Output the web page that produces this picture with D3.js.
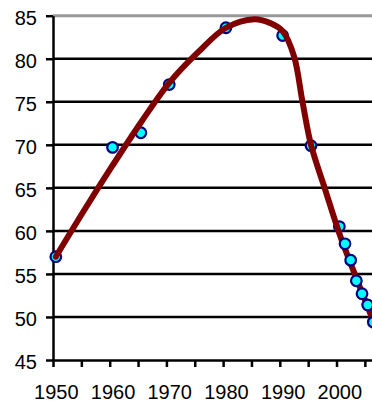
<!DOCTYPE html>
<html>
<head>
<meta charset="utf-8">
<script src="https://cdn.jsdelivr.net/npm/d3@7"></script>
<style>
  html, body { margin: 0; padding: 0; background: #fff; }
  #chart { width: 372px; height: 405px; overflow: hidden; }
  text { font-family: "Liberation Sans", Arial, sans-serif; }
</style>
</head>
<body>
<div id="chart"></div>
<script>
// 观测点（前一段，画在趋势线下面）
const yearsA = [1950, 1960, 1965, 1970, 1980, 1990, 1995, 2000]
const valuesA = [57.0, 69.7, 71.4, 77.0, 83.6, 82.7, 69.9, 60.5]
// 观测点（2001 以后，画在趋势线上面）
const yearsB = [2001, 2002, 2003, 2004, 2005, 2006]
const valuesB = [58.5, 56.6, 54.2, 52.7, 51.4, 49.4]
// 平滑趋势线，从图上读的点
const trendYears = [1950, 1955, 1960, 1965, 1970, 1975, 1980, 1985, 1988, 1990, 1992, 1993.5, 1995, 1997.5, 2000, 2003, 2006]
const trendValues = [57.0, 62.4, 67.6, 72.6, 77.2, 80.7, 83.6, 84.6, 84.1, 83.2, 80.3, 75.0, 70.0, 64.8, 59.7, 54.5, 49.5]
// 刻度
const yTicks = [45, 50, 55, 60, 65, 70, 75, 80, 85]
const xLabels = [1950, 1960, 1970, 1980, 1990, 2000]
const xTickMarks = [1949.5, 1954.5, 1959.5, 1964.5, 1969.5, 1974.5, 1979.5, 1984.5, 1989.5, 1994.5, 1999.5, 2004.5]

const width = 372
const height = 405

const svg = d3.select("#chart").append("svg")
  .attr("width", width)
  .attr("height", height)

const x = d3.scaleLinear().domain([1949.5, 2006.5]).range([53, 376.2])
const y = d3.scaleLinear().domain([45, 85]).range([360, 15.7])

// 网格线
svg.append("g")
  .selectAll("line")
  .data(yTicks.filter(d => d > 45))
  .enter()
  .append("line")
  .attr("x1", x(1949.5))
  .attr("x2", width + 10)
  .attr("y1", d => y(d))
  .attr("y2", d => y(d))
  .attr("stroke", d => d === 85 ? "#999999" : "#000000")
  .attr("stroke-width", d => d === 85 ? 3 : 2.5)

// y 轴
const yAxis = svg.append("g")
  .attr("transform", `translate(${x(1949.5)},0)`)
  .call(d3.axisLeft(y).tickValues(yTicks).tickSize(7).tickPadding(9).tickSizeOuter(0))
yAxis.select(".domain").attr("stroke", "#000").attr("stroke-width", 2.5)
yAxis.selectAll(".tick line").attr("stroke", "#000").attr("stroke-width", 2.5)
yAxis.selectAll(".tick text")
  .attr("font-size", 20)
  .attr("fill", "#000")
  .attr("dy", "0.43em")
  .style("font-family", "'Liberation Sans', Arial, sans-serif")

// x 轴：刻度线
const xAxis = svg.append("g")
  .attr("transform", `translate(0,${y(45)})`)
  .call(d3.axisBottom(x).tickValues(xTickMarks).tickSize(7).tickFormat("").tickSizeOuter(0))
xAxis.select(".domain").attr("stroke", "#000").attr("stroke-width", 2.5)
xAxis.selectAll(".tick line").attr("stroke", "#000").attr("stroke-width", 2.5)

// x 轴：年份标签
const xLab = svg.append("g")
  .attr("transform", `translate(0,${y(45)})`)
  .call(d3.axisBottom(x).tickValues(xLabels).tickSize(0).tickPadding(24.8).tickFormat(d3.format("d")))
xLab.select(".domain").remove()
xLab.selectAll(".tick text")
  .attr("font-size", 20)
  .attr("fill", "#000")
  .style("font-family", "'Liberation Sans', Arial, sans-serif")

const drawPoints = (years, values) => {
  svg.append("g")
    .selectAll("circle")
    .data(years.map((d, i) => [d, values[i]]))
    .enter()
    .append("circle")
    .attr("cx", d => x(d[0]))
    .attr("cy", d => y(d[1]))
    .attr("r", 5.3)
    .attr("fill", "#00ffff")
    .attr("stroke", "#000080")
    .attr("stroke-width", 2.2)
}

drawPoints(yearsA, valuesA)

// 趋势线
const line = d3.line()
  .x(d => x(d[0]))
  .y(d => y(d[1]))
  .curve(d3.curveCatmullRom.alpha(0.5))
svg.append("path")
  .datum(trendYears.map((d, i) => [d, trendValues[i]]))
  .attr("d", line)
  .attr("fill", "none")
  .attr("stroke", "#800000")
  .attr("stroke-width", 6)
  .attr("stroke-linecap", "round")

drawPoints(yearsB, valuesB)
</script>
</body>
</html>
